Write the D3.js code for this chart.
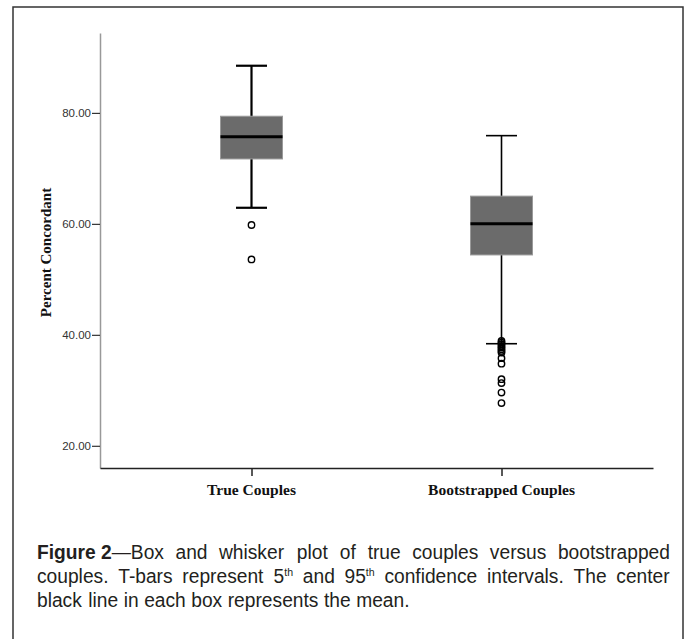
<!DOCTYPE html>
<html>
<head>
<meta charset="utf-8">
<script src="https://cdn.jsdelivr.net/npm/d3@7/dist/d3.min.js"></script>
<style>
  html, body { margin: 0; padding: 0; background: #fff; }
  svg { display: block; }
</style>
</head>
<body>
<svg id="chart"></svg>
<script>
// groups and box summaries
const categories = ['True Couples', 'Bootstrapped Couples'];
const lowerWhisker = [62.9, 38.4];
const q1 = [71.7, 54.4];
const means = [75.7, 60.0];
const q3 = [79.4, 65.0];
const upperWhisker = [88.5, 75.9];
const trueOutliers = [59.8, 53.6];
const bootOutliers = [38.9, 38.6, 38.3, 38.0, 37.7, 37.4, 37.1, 36.8, 35.8, 34.8, 32.0, 31.3, 29.6, 27.7];
const yTicks = [20, 40, 60, 80];

const width = 686;
const height = 639;
const svg = d3.select('#chart').attr('width', width).attr('height', height);

// outer frame of the figure
svg.append('rect')
  .attr('x', 13).attr('y', 7)
  .attr('width', 670).attr('height', 700)
  .attr('fill', 'none')
  .attr('stroke', '#333')
  .attr('stroke-width', 1.5);

const plotLeft = 100;
const plotRight = 653;
const plotTop = 33;
const plotBottom = 468;

const y = d3.scaleLinear().domain([16, 94.4]).range([plotBottom, plotTop]);
const x = d3.scalePoint().domain(categories).range([plotLeft, plotRight]).padding(0.606);

const yAxis = d3.axisLeft(y)
  .tickValues(yTicks)
  .tickFormat(d3.format('.2f'))
  .tickSizeInner(8)
  .tickSizeOuter(0)
  .tickPadding(1);

const gy = svg.append('g')
  .attr('transform', `translate(${plotLeft},0)`)
  .call(yAxis);
gy.select('.domain').attr('stroke', '#999').attr('stroke-width', 1.5);
gy.selectAll('.tick line').attr('stroke', '#333').attr('stroke-width', 1.2);
gy.selectAll('.tick text')
  .attr('fill', '#333')
  .style('font-family', 'Liberation Sans, Arial, sans-serif')
  .style('font-size', '11.5px');

const xAxis = d3.axisBottom(x).tickSizeInner(8).tickSizeOuter(0).tickFormat('');
const gx = svg.append('g')
  .attr('transform', `translate(0,${plotBottom})`)
  .call(xAxis);
gx.select('.domain').attr('stroke', '#222').attr('stroke-width', 1.5);
gx.selectAll('.tick line').attr('stroke', '#222').attr('stroke-width', 1.5);

svg.append('g')
  .selectAll('text')
  .data(categories)
  .join('text')
  .attr('x', d => x(d))
  .attr('y', 495)
  .attr('text-anchor', 'middle')
  .attr('fill', '#111')
  .style('font-family', 'Liberation Serif, Times New Roman, serif')
  .style('font-weight', 'bold')
  .style('font-size', '15.5px')
  .text(d => d);

svg.append('text')
  .attr('transform', `translate(51,${(plotTop + plotBottom) / 2 + 2}) rotate(-90)`)
  .attr('text-anchor', 'middle')
  .attr('fill', '#111')
  .style('font-family', 'Liberation Serif, Times New Roman, serif')
  .style('font-weight', 'bold')
  .style('font-size', '15px')
  .text('Percent Concordant');

// boxes
const boxW = 62;
const capW = 31;
const boxes = categories.map((c, i) => ({
  c, lo: lowerWhisker[i], q1: q1[i], mean: means[i], q3: q3[i], hi: upperWhisker[i],
  outliers: i === 0 ? trueOutliers : bootOutliers, sw: i === 0 ? 2.2 : 1.6
}));

const g = svg.append('g').selectAll('g').data(boxes).join('g');

g.append('line')
  .attr('x1', d => x(d.c)).attr('x2', d => x(d.c))
  .attr('y1', d => y(d.hi)).attr('y2', d => y(d.lo))
  .attr('stroke', '#000').attr('stroke-width', d => d.sw);

g.selectAll('.cap')
  .data(d => [d.lo, d.hi].map(v => ({ c: d.c, v, sw: d.sw })))
  .join('line')
  .attr('class', 'cap')
  .attr('x1', d => x(d.c) - capW / 2).attr('x2', d => x(d.c) + capW / 2)
  .attr('y1', d => y(d.v)).attr('y2', d => y(d.v))
  .attr('stroke', '#000').attr('stroke-width', d => d.sw);

g.append('rect')
  .attr('x', d => x(d.c) - boxW / 2)
  .attr('width', boxW)
  .attr('y', d => y(d.q3))
  .attr('height', d => y(d.q1) - y(d.q3))
  .attr('fill', '#6b6b6b')
  .attr('stroke', '#9a9a9a')
  .attr('stroke-width', 1);

g.append('line')
  .attr('x1', d => x(d.c) - boxW / 2).attr('x2', d => x(d.c) + boxW / 2)
  .attr('y1', d => y(d.mean)).attr('y2', d => y(d.mean))
  .attr('stroke', '#000').attr('stroke-width', 3);

g.selectAll('circle')
  .data(d => d.outliers.map(v => ({ c: d.c, v })))
  .join('circle')
  .attr('cx', d => x(d.c))
  .attr('cy', d => y(d.v))
  .attr('r', 3.2)
  .attr('fill', 'none')
  .attr('stroke', '#000')
  .attr('stroke-width', 1.4);

// caption, justified by hand, slightly condensed
const captionLines = [
  [[{ t: 'Figure 2', b: true }, { t: '\u2014Box' }], [{ t: 'and' }], [{ t: 'whisker' }], [{ t: 'plot' }], [{ t: 'of' }],
   [{ t: 'true' }], [{ t: 'couples' }], [{ t: 'versus' }], [{ t: 'bootstrapped' }]],
  [[{ t: 'couples.' }], [{ t: 'T-bars' }], [{ t: 'represent' }], [{ t: '5' }, { t: 'th', sup: true }], [{ t: 'and' }],
   [{ t: '95' }, { t: 'th', sup: true }], [{ t: 'confidence' }], [{ t: 'intervals.' }], [{ t: 'The' }], [{ t: 'center' }]],
  [[{ t: 'black' }], [{ t: 'line' }], [{ t: 'in' }], [{ t: 'each' }], [{ t: 'box' }], [{ t: 'represents' }], [{ t: 'the' }], [{ t: 'mean.' }]]
];
const capLeft = 37;
const capRight = 670;
const sx = 0.96;
const cap = svg.append('g')
  .attr('fill', '#231f20')
  .style('font-family', 'Liberation Sans Narrow, Arial Narrow, Liberation Sans, sans-serif')
  .style('font-size', '20px');

captionLines.forEach((words, li) => {
  const by = 559 + li * 24;
  const nodes = words.map(segs => {
    const t = cap.append('text');
    segs.forEach(s => {
      const ts = t.append('tspan').text(s.t);
      if (s.b) ts.style('font-weight', 'bold');
      if (s.sup) ts.attr('dy', -7).style('font-size', '11px');
    });
    return t;
  });
  const widths = nodes.map(n => n.node().getBBox().width * sx);
  const total = d3.sum(widths);
  const justify = li < captionLines.length - 1;
  const gap = justify ? (capRight - capLeft - total) / (nodes.length - 1) : 5.5;
  let cx = capLeft;
  nodes.forEach((n, i) => {
    n.attr('transform', `translate(${cx},${by}) scale(${sx},1)`);
    cx += widths[i] + gap;
  });
});
</script>
</body>
</html>
